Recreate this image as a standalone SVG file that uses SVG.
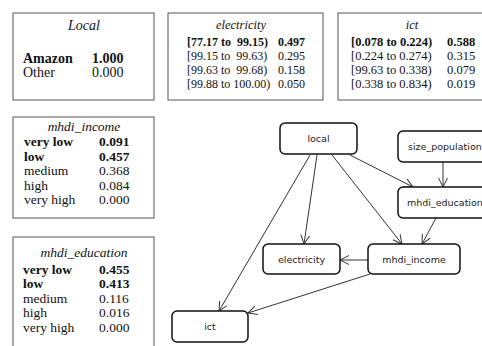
<svg xmlns="http://www.w3.org/2000/svg" width="482" height="346" viewBox="0 0 482 346">
<style>
.tb{fill:#fff;stroke:#555;stroke-width:1}
.t{font-family:"Liberation Serif","Times New Roman",serif;fill:#111}
.ti{font-style:italic}
.b{font-weight:bold}
.s135{font-size:13.5px}
.s12{font-size:12px}
.s125{font-size:12.5px}
.nd{fill:#fff;stroke:#111;stroke-width:1.5}
.nl{font-family:"DejaVu Sans",Verdana,sans-serif;font-size:9.5px;fill:#222}
.e{fill:none;stroke:#333;stroke-width:1;marker-end:url(#ah)}
</style>
<defs>
<marker id="ah" markerUnits="userSpaceOnUse" markerWidth="11" markerHeight="11" refX="9" refY="5" orient="auto">
<path d="M0,0.5 L9,5 L0,9.5" fill="none" stroke="#333" stroke-width="1"/>
</marker>
</defs>
<rect width="482" height="346" fill="#fff"/>

<g id="table-local">
<rect class="tb" x="13" y="13" width="141" height="87"/>
<text class="t ti" x="84" y="30" font-size="14" text-anchor="middle">Local</text>
<text class="t b" x="23" y="63" font-size="14">Amazon</text>
<text class="t b" x="92" y="63" font-size="14">1.000</text>
<text class="t" x="23" y="77" font-size="14">Other</text>
<text class="t" x="92" y="77" font-size="14">0.000</text>
</g>

<g id="table-electricity">
<rect class="tb" x="168" y="13" width="155" height="87"/>
<text class="t ti s125" x="241" y="29" text-anchor="middle">electricity</text>
<text class="t s12 b" x="187" y="46" xml:space="preserve">[77.17 to  99.15)</text>
<text class="t s12 b" x="278" y="46">0.497</text>
<text class="t s12" x="187" y="60" xml:space="preserve">[99.15 to  99.63)</text>
<text class="t s12" x="278" y="60">0.295</text>
<text class="t s12" x="187" y="74" xml:space="preserve">[99.63 to  99.68)</text>
<text class="t s12" x="278" y="74">0.158</text>
<text class="t s12" x="187" y="88">[99.88 to 100.00)</text>
<text class="t s12" x="278" y="88">0.050</text>
</g>

<g id="table-ict">
<rect class="tb" x="338" y="13" width="155" height="87"/>
<text class="t ti s125" x="412" y="29" text-anchor="middle">ict</text>
<text class="t s125 b" x="351" y="46">[0.078 to 0.224)</text>
<text class="t s125 b" x="447" y="46">0.588</text>
<text class="t s125" x="351" y="60">[0.224 to 0.274)</text>
<text class="t s125" x="447" y="60">0.315</text>
<text class="t s125" x="351" y="74">[99.63 to 0.338)</text>
<text class="t s125" x="447" y="74">0.079</text>
<text class="t s125" x="351" y="88">[0.338 to 0.834)</text>
<text class="t s125" x="447" y="88">0.019</text>
</g>

<g id="table-mhdi_income">
<rect class="tb" x="13" y="117" width="141" height="101"/>
<text class="t ti s135" x="84" y="131" text-anchor="middle">mhdi_income</text>
<text class="t s135 b" x="24" y="146">very low</text>
<text class="t s135 b" x="99" y="146">0.091</text>
<text class="t s135 b" x="24" y="160.5">low</text>
<text class="t s135 b" x="99" y="160.5">0.457</text>
<text class="t s135" x="24" y="175">medium</text>
<text class="t s135" x="99" y="175">0.368</text>
<text class="t s135" x="24" y="189.5">high</text>
<text class="t s135" x="99" y="189.5">0.084</text>
<text class="t s135" x="24" y="204">very high</text>
<text class="t s135" x="99" y="204">0.000</text>
</g>

<g id="table-mhdi_education">
<rect class="tb" x="13" y="237" width="141" height="120"/>
<text class="t ti s135" x="84" y="257" text-anchor="middle">mhdi_education</text>
<text class="t s135 b" x="23" y="273.5">very low</text>
<text class="t s135 b" x="99" y="273.5">0.455</text>
<text class="t s135 b" x="23" y="288">low</text>
<text class="t s135 b" x="99" y="288">0.413</text>
<text class="t s135" x="23" y="302.5">medium</text>
<text class="t s135" x="99" y="302.5">0.116</text>
<text class="t s135" x="23" y="317">high</text>
<text class="t s135" x="99" y="317">0.016</text>
<text class="t s135" x="23" y="331.5">very high</text>
<text class="t s135" x="99" y="331.5">0.000</text>
</g>

<g id="connectors">
<line class="e" x1="310" y1="155" x2="219" y2="311"/>
<line class="e" x1="317" y1="155" x2="304" y2="244"/>
<line class="e" x1="332" y1="155" x2="402" y2="244"/>
<line class="e" x1="350" y1="155" x2="413" y2="187"/>
<line class="e" x1="443" y1="162" x2="443" y2="187"/>
<line class="e" x1="436" y1="218" x2="422" y2="244"/>
<line class="e" x1="368" y1="260" x2="340" y2="260"/>
<line class="e" x1="370" y1="274" x2="248" y2="313"/>
</g>

<g id="node-local">
<rect class="nd" x="280" y="123" width="77" height="31" rx="5"/>
<text class="nl" x="318.5" y="142" text-anchor="middle">local</text>
</g>
<g id="node-size_population">
<rect class="nd" x="398" y="131" width="100" height="31" rx="5"/>
<text class="nl" x="408" y="150">size_population</text>
</g>
<g id="node-mhdi_education">
<rect class="nd" x="398" y="187" width="100" height="31" rx="5"/>
<text class="nl" x="407" y="206">mhdi_education</text>
</g>
<g id="node-electricity">
<rect class="nd" x="263" y="244" width="77" height="30" rx="5"/>
<text class="nl" x="301.5" y="262.5" text-anchor="middle">electricity</text>
</g>
<g id="node-mhdi_income">
<rect class="nd" x="368" y="244" width="92" height="30" rx="5"/>
<text class="nl" x="414" y="262.5" text-anchor="middle">mhdi_income</text>
</g>
<g id="node-ict">
<rect class="nd" x="172" y="311" width="76" height="31" rx="5"/>
<text class="nl" x="210" y="330" text-anchor="middle">ict</text>
</g>
</svg>
